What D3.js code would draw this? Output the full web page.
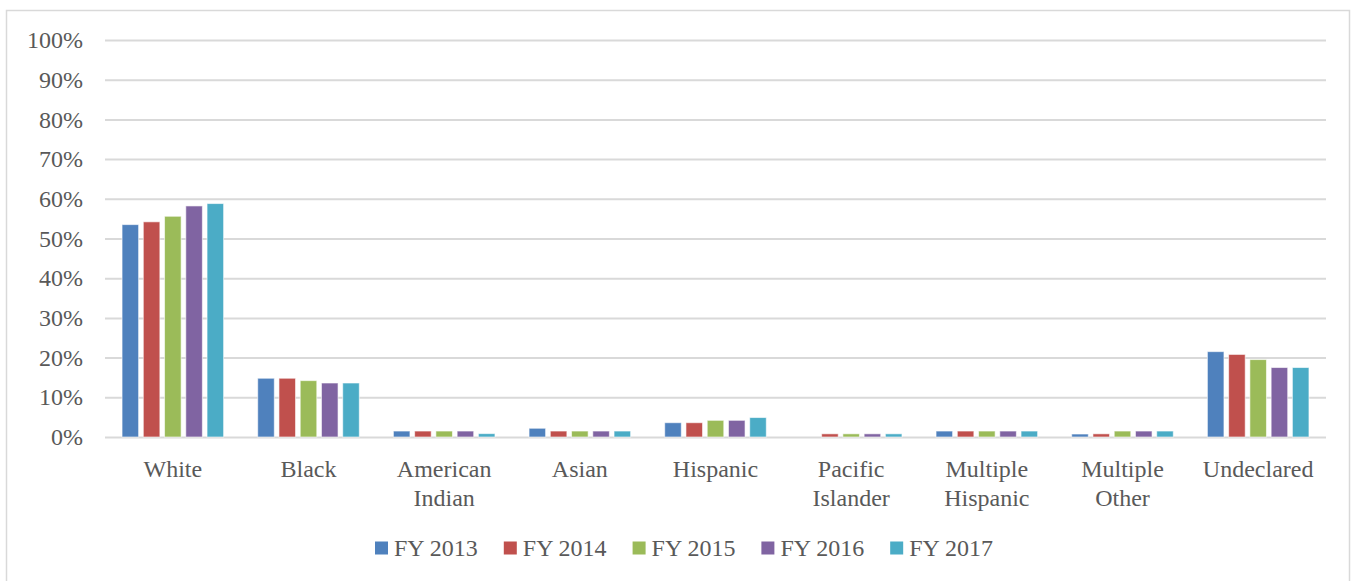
<!DOCTYPE html>
<html>
<head>
<meta charset="utf-8">
<script src="https://cdn.jsdelivr.net/npm/d3@7"></script>
<style>
  body { margin: 0; background: #fff; }
  text { font-family: "Liberation Serif", serif; fill: #595959; }
</style>
</head>
<body>
<div id="chart"></div>
<script>
// categories + one array per fiscal year (percent)
const categories = ["White", "Black", "American Indian", "Asian", "Hispanic",
  "Pacific Islander", "Multiple Hispanic", "Multiple Other", "Undeclared"];
const seriesNames = ["FY 2013", "FY 2014", "FY 2015", "FY 2016", "FY 2017"];
const fy2013 = [53.5, 14.8, 1.5, 2.2, 3.6, 0, 1.5, 0.75, 21.5];
const fy2014 = [54.2, 14.8, 1.5, 1.5, 3.6, 0.8, 1.5, 0.8, 20.8];
const fy2015 = [55.6, 14.2, 1.5, 1.5, 4.2, 0.8, 1.5, 1.5, 19.5];
const fy2016 = [58.2, 13.6, 1.5, 1.5, 4.2, 0.8, 1.5, 1.5, 17.5];
const fy2017 = [58.8, 13.6, 0.85, 1.5, 4.9, 0.8, 1.5, 1.5, 17.5];
const yTicks = [0, 10, 20, 30, 40, 50, 60, 70, 80, 90, 100];
const colors = ["#4F81BD", "#C0504D", "#9BBB59", "#8064A2", "#4BACC6"];

const allSeries = [fy2013, fy2014, fy2015, fy2016, fy2017];

const W = 1356, H = 581;
const margin = {top: 40, right: 30, bottom: 144, left: 105};
const width = W - margin.left - margin.right;
const height = H - margin.top - margin.bottom;
const fontSize = 24;

const svg = d3.select("#chart").append("svg")
  .attr("width", W)
  .attr("height", H);

// outer frame
svg.append("rect")
  .attr("x", 6.5).attr("y", 10.5)
  .attr("width", 1343).attr("height", 580)
  .attr("fill", "#fff")
  .attr("stroke", "#d9d9d9")
  .attr("stroke-width", 1.5);

const g = svg.append("g")
  .attr("transform", `translate(${margin.left},${margin.top})`);

const x0 = d3.scaleBand()
  .domain(categories)
  .range([0, width]);

const groupW = 106.25;
const x1 = d3.scaleBand()
  .domain(seriesNames)
  .range([(x0.bandwidth() - groupW) / 2, (x0.bandwidth() + groupW) / 2])
  .paddingInner(0.22)
  .paddingOuter(0.11);

const y = d3.scaleLinear()
  .domain([0, 100])
  .range([height, 0]);

// y axis + gridlines
const yAxis = g.append("g")
  .call(d3.axisLeft(y)
    .tickValues(yTicks)
    .tickSize(-width)
    .tickPadding(22)
    .tickFormat(d => d + "%"));
yAxis.select(".domain").remove();
yAxis.selectAll(".tick line")
  .attr("stroke", "#d9d9d9")
  .attr("stroke-width", 2);
yAxis.selectAll(".tick text")
  .attr("font-size", fontSize)
  .style("font-family", "Liberation Serif, serif")
  .attr("fill", "#595959");

// bars
const groups = g.selectAll("g.cat")
  .data(categories)
  .enter().append("g")
  .attr("class", "cat")
  .attr("transform", d => `translate(${x0(d)},0)`);

groups.selectAll("rect")
  .data((d, i) => seriesNames.map((s, j) => ({s: s, v: allSeries[j][i], c: colors[j]})))
  .enter().append("rect")
  .filter(d => d.v > 0)
  .attr("x", d => x1(d.s))
  .attr("y", d => y(d.v))
  .attr("width", x1.bandwidth())
  .attr("height", d => height - y(d.v))
  .attr("fill", d => d.c)
  .attr("stroke", "#ffffff")
  .attr("stroke-opacity", 0.6)
  .attr("stroke-width", 1);

// x labels (wrapped on space)
const xLab = g.append("g")
  .attr("transform", `translate(0,${height})`);
categories.forEach(c => {
  const t = xLab.append("text")
    .attr("x", x0(c) + x0.bandwidth() / 2)
    .attr("y", 40)
    .attr("text-anchor", "middle")
    .attr("font-size", fontSize);
  c.split(" ").forEach((w, i) => {
    t.append("tspan")
      .attr("x", x0(c) + x0.bandwidth() / 2)
      .attr("dy", i === 0 ? 0 : 28.5)
      .text(w);
  });
});

// legend
const legend = svg.append("g")
  .attr("transform", "translate(375,548)");
let lx = 0;
seriesNames.forEach((s, i) => {
  const item = legend.append("g").attr("transform", `translate(${lx},0)`);
  item.append("rect")
    .attr("x", 0).attr("y", -6.5)
    .attr("width", 13).attr("height", 13)
    .attr("fill", colors[i]);
  const t = item.append("text")
    .attr("x", 19)
    .attr("y", 8)
    .attr("font-size", fontSize)
    .text(s);
  lx += 19 + t.node().getComputedTextLength() + 26;
});
</script>
</body>
</html>
